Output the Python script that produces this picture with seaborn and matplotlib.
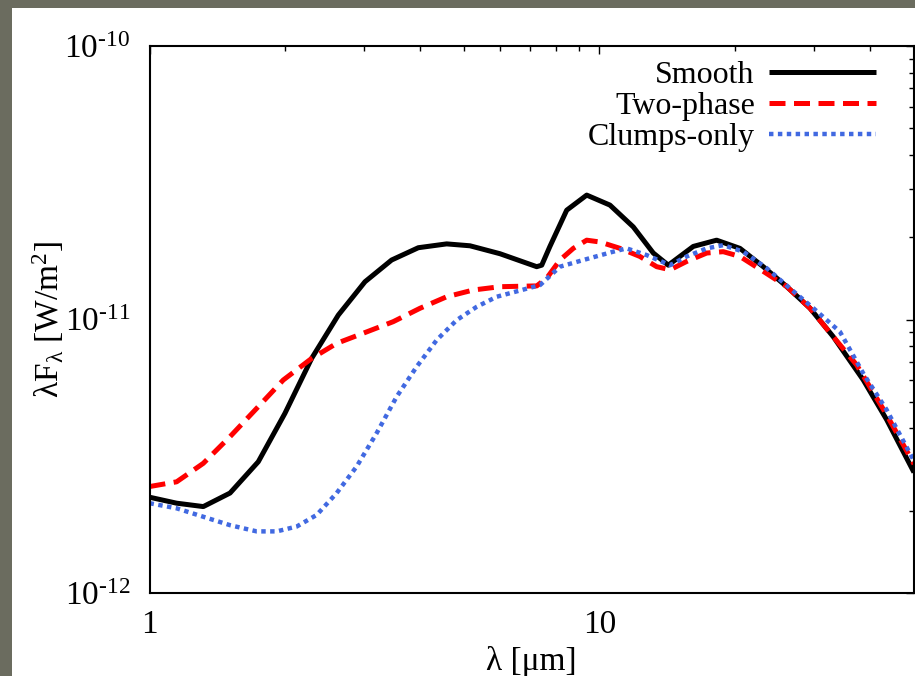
import numpy as np
import pandas as pd
import matplotlib
matplotlib.use("Agg")
import matplotlib.pyplot as plt
from matplotlib.patches import Rectangle
from matplotlib.ticker import LogLocator, NullFormatter, FixedLocator, FixedFormatter
import seaborn as sns

# ---- data ----
smooth_wl = [1.00, 1.149, 1.317, 1.510, 1.745, 2.000, 2.294, 2.628, 3.012, 3.452, 3.957,
             4.575, 5.155, 6.009, 7.253, 7.442, 7.76, 8.456, 9.367, 10.55, 11.89, 13.17,
             14.22, 16.16, 18.21, 20.52, 23.12, 26.06, 29.36, 33.08, 38.57, 43.48, 50.0]
smooth_f = [2.24e-12, 2.13e-12, 2.07e-12, 2.32e-12, 3.02e-12, 4.54e-12, 7.22e-12, 1.038e-11,
            1.374e-11, 1.65e-11, 1.83e-11, 1.89e-11, 1.86e-11, 1.74e-11, 1.56e-11, 1.58e-11,
            1.85e-11, 2.51e-11, 2.85e-11, 2.62e-11, 2.18e-11, 1.75e-11, 1.58e-11, 1.85e-11,
            1.95e-11, 1.82e-11, 1.56e-11, 1.32e-11, 1.10e-11, 8.65e-12, 6.01e-12, 4.30e-12,
            2.76e-12]

twophase_wl = [1.00, 1.149, 1.317, 1.510, 1.730, 1.983, 2.294, 2.606, 2.986, 3.481, 3.991,
               4.575, 5.244, 6.009, 7.253, 7.633, 8.17, 8.745, 9.367, 10.03, 11.11, 12.30,
               13.40, 14.35, 15.62, 17.31, 18.84, 20.52, 23.12, 26.06, 29.36, 33.08, 37.29,
               43.48, 50.0]
twophase_f = [2.45e-12, 2.55e-12, 2.98e-12, 3.73e-12, 4.73e-12, 6.01e-12, 7.21e-12, 8.18e-12,
              8.91e-12, 9.82e-12, 1.099e-11, 1.211e-11, 1.282e-11, 1.318e-11, 1.327e-11,
              1.416e-11, 1.65e-11, 1.82e-11, 1.95e-11, 1.92e-11, 1.82e-11, 1.70e-11, 1.56e-11,
              1.52e-11, 1.63e-11, 1.75e-11, 1.77e-11, 1.70e-11, 1.50e-11, 1.32e-11, 1.10e-11,
              8.65e-12, 6.82e-12, 4.48e-12, 2.96e-12]

clumps_wl = [1.00, 1.149, 1.317, 1.510, 1.730, 1.918, 2.124, 2.353, 2.606, 2.886, 3.197,
             3.542, 3.924, 4.347, 4.816, 5.336, 5.910, 7.377, 8.17, 9.204, 10.73, 11.49,
             12.73, 14.35, 15.62, 17.31, 18.84, 20.87, 23.53, 26.50, 29.87, 34.23, 38.57,
             43.48, 50.0]
clumps_f = [2.13e-12, 2.04e-12, 1.90e-12, 1.77e-12, 1.68e-12, 1.68e-12, 1.75e-12, 1.93e-12,
            2.32e-12, 2.90e-12, 3.84e-12, 5.22e-12, 6.72e-12, 8.41e-12, 9.95e-12, 1.113e-11,
            1.211e-11, 1.336e-11, 1.56e-11, 1.65e-11, 1.77e-11, 1.82e-11, 1.72e-11, 1.58e-11,
            1.70e-11, 1.82e-11, 1.87e-11, 1.77e-11, 1.54e-11, 1.30e-11, 1.10e-11, 9.02e-12,
            6.35e-12, 4.67e-12, 3.04e-12]

series_names = ["Smooth", "Two-phase", "Clumps-only"]
x_ticks = [1, 10]
x_tick_labels = ["1", "10"]
y_ticks = [1e-12, 1e-11, 1e-10]
y_tick_labels = [r"10$^{\text{-12}}$", r"10$^{\text{-11}}$", r"10$^{\text{-10}}$"]

# ---- style ----
sns.set_style("white")
plt.rcParams["font.family"] = ["Liberation Serif", "DejaVu Serif"]
plt.rcParams["mathtext.fontset"] = "custom"
plt.rcParams["mathtext.rm"] = "Liberation Serif"
plt.rcParams["mathtext.it"] = "Liberation Serif:italic"
plt.rcParams["mathtext.default"] = "regular"
plt.rcParams["axes.unicode_minus"] = False
for k in ["text.color", "axes.labelcolor", "xtick.color", "ytick.color", "axes.edgecolor"]:
    plt.rcParams[k] = "black"

W, H = 915, 676
fig = plt.figure(figsize=(W / 100, H / 100), dpi=100, facecolor="white")
# grey frame strips (left and top)
fig.patches.append(Rectangle((0, 0), 12 / W, 1, transform=fig.transFigure,
                             facecolor="#6b6c5f", edgecolor="none", zorder=-10))
fig.patches.append(Rectangle((0, 1 - 8 / H), 1, 8 / H, transform=fig.transFigure,
                             facecolor="#6b6c5f", edgecolor="none", zorder=-10))

left, right, top, bottom = 149.5, 914, 46, 593
ax = fig.add_axes([left / W, (H - bottom) / H, (right - left) / W, (bottom - top) / H])
ax.set_facecolor("white")

frames = [
    pd.DataFrame({"wl": smooth_wl, "flux": smooth_f}),
    pd.DataFrame({"wl": twophase_wl, "flux": twophase_f}),
    pd.DataFrame({"wl": clumps_wl, "flux": clumps_f}),
]
styles = [
    dict(color="black", linestyle="-", lw=3.6),
    dict(color="#ff0000", linestyle=(0, (3.2, 1.7)), lw=3.6),
    dict(color="#4169e1", linestyle=(0, (1, 1)), lw=3.2),
]
for df, name, st in zip(frames, series_names, styles):
    sns.lineplot(data=df, x="wl", y="flux", ax=ax, label=name, sort=False,
                 estimator=None, solid_capstyle="butt", dash_capstyle="butt", **st)

ax.set_xscale("log")
ax.set_yscale("log")
ax.set_xlim(1, 50)
ax.set_ylim(1e-12, 1e-10)

ax.xaxis.set_major_locator(FixedLocator(x_ticks))
ax.xaxis.set_major_formatter(FixedFormatter(x_tick_labels))
ax.xaxis.set_minor_locator(LogLocator(base=10, subs=np.arange(2, 10)))
ax.xaxis.set_minor_formatter(NullFormatter())
ax.yaxis.set_major_locator(FixedLocator(y_ticks))
ax.yaxis.set_major_formatter(FixedFormatter(y_tick_labels))
ax.yaxis.set_minor_locator(LogLocator(base=10, subs=np.arange(2, 10)))
ax.yaxis.set_minor_formatter(NullFormatter())

ax.tick_params(which="both", direction="in", top=True, right=True, color="black",
               labelcolor="black")
ax.tick_params(which="major", length=6, width=1.0, labelsize=24)
ax.tick_params(which="minor", length=3.5, width=1.0)
ax.tick_params(axis="x", which="major", pad=12)
ax.tick_params(axis="y", which="major", pad=14)
for sp in ax.spines.values():
    sp.set_color("black")
    sp.set_linewidth(1.5)

ax.set_xlabel("λ [μm]", fontsize=24, labelpad=4, color="black")
ax.set_ylabel(r"λF$_{\mathregular{λ}}$ [W/m$^{\mathregular{2}}$]", fontsize=24, labelpad=-1,
              color="black")

leg = ax.legend(loc="upper right", frameon=False, fontsize=23, markerfirst=False,
                handlelength=3.35, handletextpad=0.45, labelspacing=0.05,
                borderaxespad=0.0, bbox_to_anchor=(1 - 25 / (right - left), 1 - 2 / (bottom - top)))
for t in leg.get_texts():
    t.set_color("black")

fig.savefig("out.png", dpi=100, facecolor=fig.get_facecolor())
